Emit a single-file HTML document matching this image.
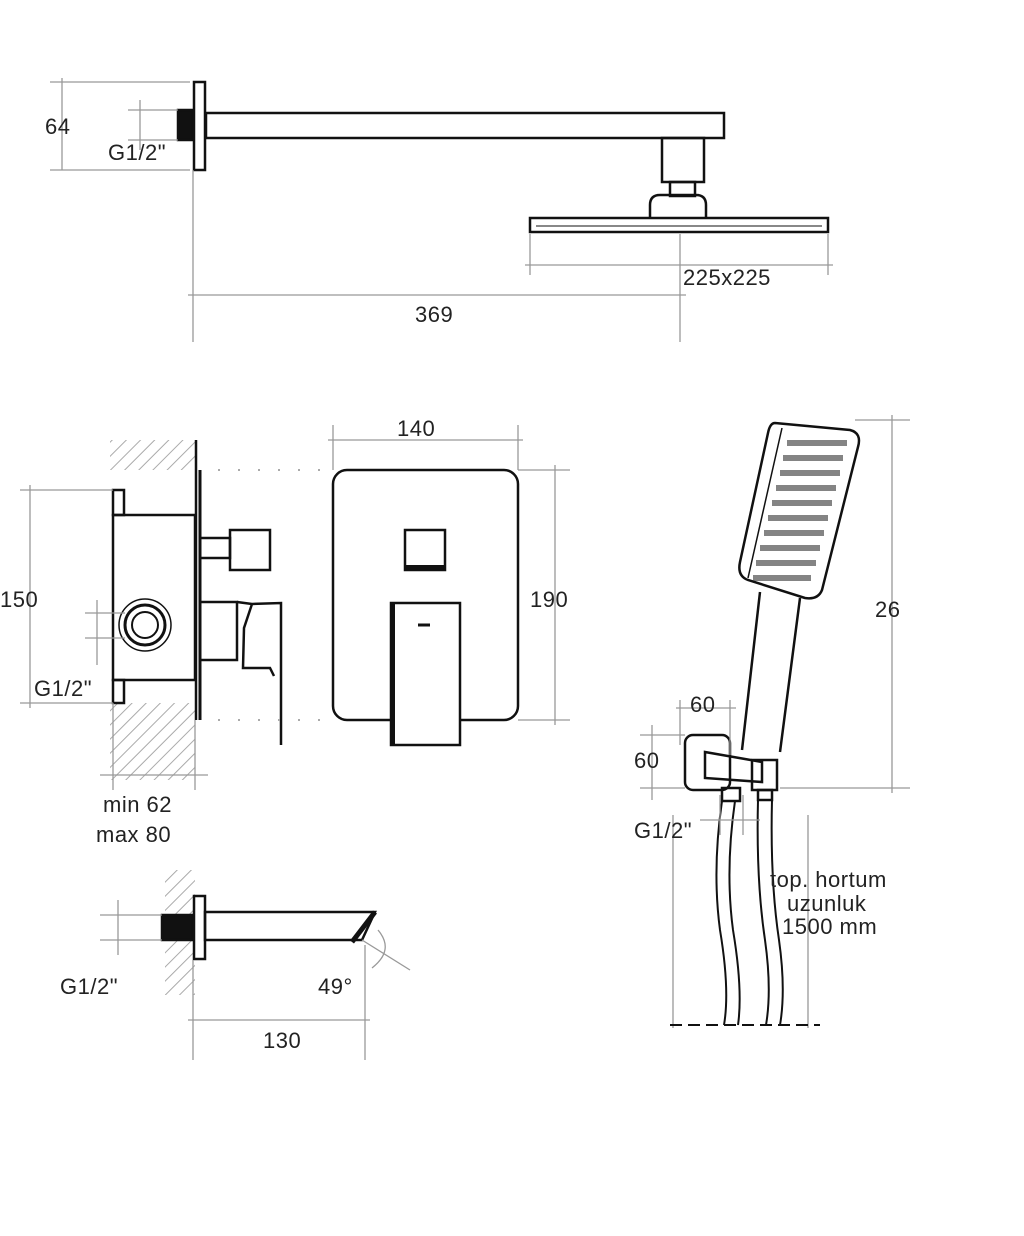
<!DOCTYPE html>
<html><head><meta charset="utf-8"><style>
html,body{margin:0;padding:0;background:#fff;}
svg{display:block}
text{font-family:"Liberation Sans",sans-serif;font-size:22px;letter-spacing:0.5px;fill:#222}
</style></head><body>
<svg width="1024" height="1236" viewBox="0 0 1024 1236" xmlns="http://www.w3.org/2000/svg">
<defs>
<pattern id="h" width="10" height="10" patternUnits="userSpaceOnUse" patternTransform="rotate(45)">
<line x1="0" y1="0" x2="0" y2="10" stroke="#aaa" stroke-width="2"/>
</pattern>
</defs>
<g fill="none" stroke="#111" stroke-width="2.5">
<rect x="178" y="110" width="15" height="30" fill="#111"/>
<rect x="194" y="82" width="11" height="88"/>
<rect x="206" y="113" width="518" height="25"/>
<rect x="662" y="138" width="42" height="44"/>
<rect x="670" y="182" width="25" height="14"/>
<path d="M650 218 V205 Q650 195 660 195 H696 Q706 195 706 205 V218"/>
<rect x="530" y="218" width="298" height="14"/>
<line x1="536" y1="226" x2="822" y2="226" stroke-width="1"/>
</g>
<g stroke="#999" stroke-width="1.3" fill="none">
<line x1="62" y1="78" x2="62" y2="170"/><line x1="50" y1="82" x2="190" y2="82"/><line x1="50" y1="170" x2="190" y2="170"/>
<line x1="140" y1="100" x2="140" y2="150"/><line x1="128" y1="110" x2="178" y2="110"/><line x1="128" y1="140" x2="178" y2="140"/>
<line x1="193" y1="170" x2="193" y2="342"/><line x1="680" y1="234" x2="680" y2="342"/>
<line x1="188" y1="295" x2="686" y2="295"/>
<line x1="530" y1="234" x2="530" y2="275"/><line x1="828" y1="234" x2="828" y2="275"/>
<line x1="525" y1="265" x2="833" y2="265"/>
</g>
<text x="45" y="134">64</text>
<text x="108" y="160">G1/2"</text>
<text x="683" y="285">225x225</text>
<text x="415" y="322">369</text>

<rect x="110" y="440" width="85" height="30" fill="url(#h)"/>
<rect x="110" y="703" width="85" height="77" fill="url(#h)"/>
<g fill="none" stroke="#111" stroke-width="2.5">
<line x1="196" y1="440" x2="196" y2="720"/>
<line x1="200" y1="470" x2="200" y2="720" stroke-width="3"/>
<rect x="113" y="515" width="82" height="165"/>
<rect x="113" y="490" width="11" height="25"/>
<rect x="113" y="680" width="11" height="23"/>
<circle cx="145" cy="625" r="26" stroke-width="1.5"/>
<circle cx="145" cy="625" r="20" stroke-width="3"/>
<circle cx="145" cy="625" r="13" stroke-width="2"/>
<rect x="200" y="538" width="30" height="20"/>
<rect x="230" y="530" width="40" height="40"/>
<rect x="200" y="602" width="37" height="58"/>
<path d="M237 602 L252 604 L281 603 V745 M252 604 L244 628 L243 668 L270 668 L274 676"/>
<rect x="333" y="470" width="185" height="250" rx="14"/>
<rect x="405" y="530" width="40" height="40"/>
<line x1="405" y1="567" x2="445" y2="567" stroke-width="4"/>
<rect x="391" y="603" width="69" height="142" fill="#fff"/>
<line x1="393" y1="603" x2="393" y2="745" stroke-width="4"/>
<line x1="418" y1="625" x2="430" y2="625" stroke-width="3"/>
</g>
<g stroke="#aaa" stroke-width="2" stroke-dasharray="2 18" fill="none">
<line x1="218" y1="470" x2="325" y2="470"/><line x1="218" y1="720" x2="325" y2="720"/>
</g>
<g stroke="#999" stroke-width="1.3" fill="none">
<line x1="333" y1="425" x2="333" y2="470"/><line x1="518" y1="425" x2="518" y2="470"/>
<line x1="328" y1="440" x2="523" y2="440"/>
<line x1="518" y1="470" x2="570" y2="470"/><line x1="518" y1="720" x2="570" y2="720"/>
<line x1="555" y1="465" x2="555" y2="725"/>
<line x1="20" y1="490" x2="113" y2="490"/><line x1="20" y1="703" x2="113" y2="703"/>
<line x1="30" y1="485" x2="30" y2="708"/>
<line x1="85" y1="613" x2="125" y2="613"/><line x1="85" y1="638" x2="125" y2="638"/>
<line x1="97" y1="600" x2="97" y2="665"/>
<line x1="113" y1="703" x2="113" y2="790"/><line x1="195" y1="720" x2="195" y2="790"/>
<line x1="100" y1="775" x2="208" y2="775"/>
</g>
<text x="397" y="436">140</text>
<text x="530" y="607">190</text>
<text x="0" y="607">150</text>
<text x="34" y="696">G1/2"</text>
<text x="103" y="812">min 62</text>
<text x="96" y="842">max 80</text>

<rect x="165" y="870" width="30" height="125" fill="url(#h)"/>
<g fill="none" stroke="#111" stroke-width="2.5">
<rect x="162" y="915" width="31" height="25" fill="#111"/>
<rect x="194" y="896" width="11" height="63"/>
<path d="M205 912 H375 L362 940 H205 Z"/>
<path d="M375 912 L352 942" stroke-width="5"/>
</g>
<g stroke="#999" stroke-width="1.3" fill="none">
<line x1="100" y1="915" x2="162" y2="915"/><line x1="100" y1="940" x2="162" y2="940"/>
<line x1="118" y1="900" x2="118" y2="955"/>
<line x1="193" y1="960" x2="193" y2="1060"/><line x1="365" y1="945" x2="365" y2="1060"/>
<line x1="188" y1="1020" x2="370" y2="1020"/>
<line x1="362" y1="940" x2="410" y2="970"/>
<path d="M378 930 Q395 950 372 968"/>
</g>
<text x="60" y="994">G1/2"</text>
<text x="318" y="994">49°</text>
<text x="263" y="1048">130</text>

<g fill="none" stroke="#111" stroke-width="2.5">
<path d="M775 423 L850 430 Q862 433 858 447 L822 590 Q818 600 805 598 L748 580 Q737 576 740 562 L768 433 Q770 423 775 423 Z"/>
<path d="M782 428 L748 578" stroke-width="1.5"/>
<path d="M760 592 L742 750 M800 598 L780 752"/>
<rect x="685" y="735" width="45" height="55" rx="8"/>
<path d="M705 752 L762 762 L762 782 L705 778 Z"/>
<rect x="752" y="760" width="25" height="30"/>
<rect x="722" y="788" width="18" height="13"/>
<rect x="758" y="790" width="14" height="10"/>
<path d="M722 801 Q712 870 720 930 Q730 990 724 1025 M735 801 Q725 870 733 930 Q743 990 738 1025" stroke-width="2"/>
<path d="M758 800 Q756 880 765 940 Q772 990 766 1025 M772 800 Q770 880 779 940 Q786 990 780 1025" stroke-width="2"/>
</g>
<g fill="#333" opacity="0.6">
<rect x="787" y="440" width="60" height="6"/>
<rect x="783" y="455" width="60" height="6"/>
<rect x="780" y="470" width="60" height="6"/>
<rect x="776" y="485" width="60" height="6"/>
<rect x="772" y="500" width="60" height="6"/>
<rect x="768" y="515" width="60" height="6"/>
<rect x="764" y="530" width="60" height="6"/>
<rect x="760" y="545" width="60" height="6"/>
<rect x="756" y="560" width="60" height="6"/>
<rect x="753" y="575" width="58" height="6"/>
</g>
<g stroke="#999" stroke-width="1.3" fill="none">
<line x1="855" y1="420" x2="910" y2="420"/><line x1="780" y1="788" x2="910" y2="788"/>
<line x1="892" y1="415" x2="892" y2="793"/>
<line x1="680" y1="700" x2="680" y2="745"/><line x1="730" y1="700" x2="730" y2="755"/>
<line x1="676" y1="708" x2="736" y2="708"/>
<line x1="640" y1="735" x2="685" y2="735"/><line x1="640" y1="788" x2="685" y2="788"/>
<line x1="652" y1="725" x2="652" y2="800"/>
<line x1="720" y1="795" x2="720" y2="835"/><line x1="743" y1="795" x2="743" y2="835"/>
<line x1="700" y1="820" x2="760" y2="820"/>
<line x1="673" y1="815" x2="673" y2="1028"/><line x1="808" y1="815" x2="808" y2="1028"/>
</g>
<line x1="670" y1="1025" x2="820" y2="1025" stroke="#111" stroke-width="2" stroke-dasharray="12 6"/>
<text x="875" y="617">26</text>
<text x="690" y="712">60</text>
<text x="634" y="768">60</text>
<text x="634" y="838">G1/2"</text>
<text x="770" y="887">top. hortum</text>
<text x="787" y="911">uzunluk</text>
<text x="782" y="934">1500 mm</text>
</svg>
</body></html>
